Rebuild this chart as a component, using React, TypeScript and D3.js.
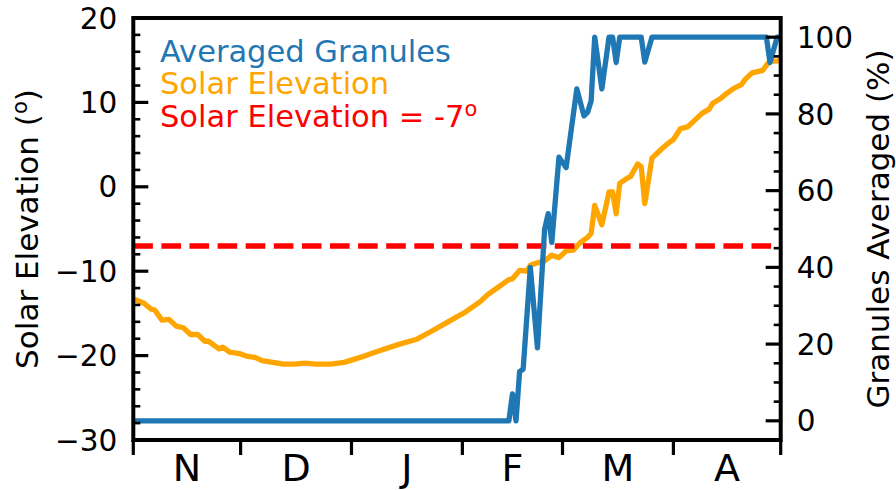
import React from 'react';
import * as d3 from 'd3';

// days counted from 1 November
const monthLabels = ['N', 'D', 'J', 'F', 'M', 'A'];
const elevTicks = [-30, -20, -10, 0, 10, 20];
const granTicks = [0, 20, 40, 60, 80, 100];
const threshold = -7;

const elevDays = [0, 3, 5, 6, 8, 10, 12, 14, 16, 18, 20, 21, 24, 25, 27, 30, 32, 34, 36, 39,
  42, 45, 48, 51, 55, 59, 65, 69, 74, 79, 83, 88, 93, 97, 99, 101, 102, 105, 106, 108,
  110, 111, 113, 115, 117, 119, 121, 123, 125, 127, 128, 129, 131, 133, 134, 135, 136, 138, 139, 141,
  142, 143, 145, 146, 148, 150, 151, 153, 155, 157, 159, 161, 162, 164, 166, 168, 170, 171, 173, 176,
  177, 178, 180, 181];
const elevValues = [-13.3, -13.8, -14.5, -14.6, -15.8, -15.7, -16.5, -16.7, -17.5, -17.5,
  -18.3, -18.3, -19.2, -19.0, -19.6, -19.8, -20.1, -20.2, -20.6, -20.8,
  -21.0, -21.0, -20.9, -21.0, -21.0, -20.8, -20.0, -19.4, -18.7, -18.1,
  -17.2, -16.0, -14.8, -13.6, -12.8, -12.2, -11.9, -11.0, -10.9, -9.9,
  -10.0, -9.3, -9.0, -8.8, -8.1, -8.4, -7.6, -7.5, -6.6, -6.0,
  -5.5, -2.2, -4.5, -0.6, -0.6, -3.2, 0.4, 1.0, 1.2, 2.7,
  2.4, -2.0, 3.4, 3.8, 4.6, 5.3, 5.6, 6.9, 7.1, 7.9,
  8.7, 9.2, 9.9, 10.4, 11.1, 11.7, 12.1, 12.7, 13.5, 13.8,
  14.4, 14.9, 14.9, 15.0];

const granDays = [0, 105, 106, 107, 108, 109, 111, 113, 115, 116, 117, 119, 121, 124, 126,
  127, 128, 129, 131, 133, 134, 135, 136, 142, 143, 145, 177, 178, 180, 181];
const granValues = [0, 0, 7, 0, 12.8, 13.5, 40, 19, 50, 54, 46.5, 68.7, 66, 86.5, 79.5,
  80.4, 83.4, 100, 86.5, 100, 100, 93.4, 100, 100, 93.5, 100, 100, 93.4, 100, 100];

const FONT = 'DejaVu Sans';

export default function App() {
  const width = 896;
  const height = 490;
  const left = 133.3, right = 780.7, top = 18, bottom = 440;

  const start = new Date(2018, 10, 1);
  const end = new Date(2019, 4, 1);
  const day = (d: number) => d3.timeDay.offset(start, d);

  const x = d3.scaleTime().domain([start, end]).range([left, right]);
  const yL = d3.scaleLinear().domain([-30, 20]).range([bottom, top]);
  const yR = d3.scaleLinear().domain([-5, 105]).range([bottom, top]);

  const months = d3.timeMonth.range(start, d3.timeDay.offset(end, 1));

  const elevLine = d3.line<number>()
    .x((d) => x(day(d)))
    .y((_, i) => yL(elevValues[i]));
  const granLine = d3.line<number>()
    .x((d) => x(day(d)))
    .y((_, i) => yR(granValues[i]));

  const leftMinor = d3.range(-30, 20.01, 2).filter((v) => v % 10 !== 0);
  const rightMinor = d3.range(5, 100, 5).filter((v) => v % 20 !== 0);

  return (
    <svg width={width} height={height} style={{ position: 'absolute', left: 0, top: 0 }}
      fontFamily={FONT}>
      <rect width={width} height={height} fill="white" />

      {/* data */}
      <path d={elevLine(elevDays) || ''} fill="none" stroke="#ffa500" strokeWidth={5.3}
        strokeLinejoin="round" />
      <line x1={left} x2={right} y1={yL(threshold)} y2={yL(threshold)} stroke="#ff0000"
        strokeWidth={5.5} strokeDasharray="19.6,8.5" />
      <path d={granLine(granDays) || ''} fill="none" stroke="#1f77b4" strokeWidth={5.3}
        strokeLinejoin="round" />

      {/* left axis */}
      {elevTicks.map((t) => (
        <g key={'l' + t}>
          <line x1={left} x2={left + 15} y1={yL(t)} y2={yL(t)} stroke="black" strokeWidth={3.2} />
          <text x={left - 16} y={yL(t)} dy="0.36em" textAnchor="end" fontSize={29.5}>
            {t < 0 ? '\u2212' + Math.abs(t) : t}
          </text>
        </g>
      ))}
      {leftMinor.map((t) => (
        <line key={'lm' + t} x1={left} x2={left + 7} y1={yL(t)} y2={yL(t)} stroke="black"
          strokeWidth={2.6} />
      ))}

      {/* right axis */}
      {granTicks.map((t) => (
        <g key={'r' + t}>
          <line x1={right - 15} x2={right} y1={yR(t)} y2={yR(t)} stroke="black" strokeWidth={3.2} />
          <text x={right + 16} y={yR(t)} dy="0.36em" textAnchor="start" fontSize={29.5}>{t}</text>
        </g>
      ))}
      {rightMinor.map((t) => (
        <line key={'rm' + t} x1={right - 7} x2={right} y1={yR(t)} y2={yR(t)} stroke="black"
          strokeWidth={2.6} />
      ))}

      {/* bottom axis */}
      {months.map((m) => (
        <line key={'b' + m.getTime()} x1={x(m)} x2={x(m)} y1={bottom} y2={bottom + 15}
          stroke="black" strokeWidth={3.2} />
      ))}
      {monthLabels.map((lab, i) => {
        const cx = (x(months[i]) + x(months[i + 1])) / 2;
        return (
          <text key={'bl' + lab + i} x={cx} y={481} textAnchor="middle" fontSize={38}>{lab}</text>
        );
      })}

      {/* frame */}
      <rect x={left} y={top} width={right - left} height={bottom - top} fill="none"
        stroke="black" strokeWidth={4} />

      {/* axis titles */}
      <text transform={`translate(38,${(top + bottom) / 2}) rotate(-90)`} textAnchor="middle"
        fontSize={31}>
        Solar Elevation (<tspan dy={-11} fontSize={21}>o</tspan><tspan dy={11}>)</tspan>
      </text>
      <text transform={`translate(889,${(top + bottom) / 2}) rotate(-90)`} textAnchor="middle"
        fontSize={31}>
        Granules Averaged (%)
      </text>

      {/* legend */}
      <text x={160} y={61.7} fontSize={30.5} fill="#1f77b4">Averaged Granules</text>
      <text x={160} y={94.3} fontSize={30.5} fill="#ffa500">Solar Elevation</text>
      <text x={160} y={126.7} fontSize={30.5} fill="#ff0000">
        Solar Elevation = -7<tspan dy={-11} fontSize={21}>o</tspan>
      </text>
    </svg>
  );
}
